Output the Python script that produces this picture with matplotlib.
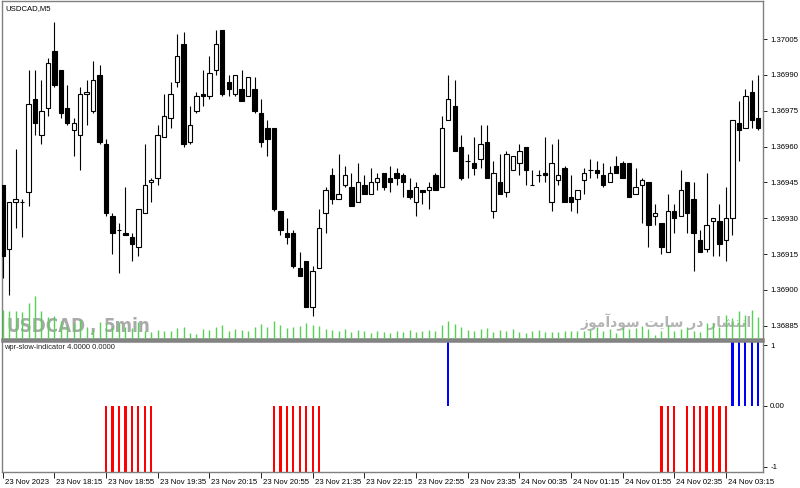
import matplotlib
matplotlib.use('Agg')
import numpy as np
import matplotlib.pyplot as plt
import matplotlib.transforms as mtransforms

plt.rcParams['font.family'] = ['Liberation Sans', 'DejaVu Sans']

# USDCAD M5 candles (bar 0 = 23 Nov 17:35)
opens = [1.36944, 1.36917, 1.36937, 1.36937, 1.36941, 1.36980, 1.36965, 1.36976, 1.37000, 1.36992,
         1.36976, 1.36967, 1.36965, 1.36982, 1.36975, 1.36990, 1.36961, 1.36931, 1.36925, 1.36924,
         1.36922, 1.36918, 1.36932, 1.36945, 1.36947, 1.36964, 1.36972, 1.36987, 1.37003, 1.36962,
         1.36975, 1.36982, 1.36981, 1.36992, 1.37009, 1.36987, 1.36982, 1.36984, 1.36981, 1.36984,
         1.36974, 1.36968, 1.36968, 1.36933, 1.36924, 1.36924, 1.36909, 1.36912, 1.36893, 1.36909,
         1.36932, 1.36948, 1.36938, 1.36944, 1.36943, 1.36937, 1.36944, 1.36940, 1.36945, 1.36949,
         1.36947, 1.36949, 1.36948, 1.36942, 1.36937, 1.36942, 1.36942, 1.36948, 1.36943, 1.36971,
         1.36977, 1.36960, 1.36954, 1.36953, 1.36955, 1.36962, 1.36933, 1.36945, 1.36941, 1.36950,
         1.36953, 1.36960, 1.36944, 1.36948, 1.36949, 1.36937, 1.36946, 1.36951, 1.36939, 1.36938,
         1.36946, 1.36950, 1.36950, 1.36948, 1.36945, 1.36952, 1.36953, 1.36953, 1.36940, 1.36944,
         1.36945, 1.36931, 1.36928, 1.36916, 1.36933, 1.36931, 1.36945, 1.36938, 1.36921, 1.36917,
         1.36929, 1.36929, 1.36921, 1.36930, 1.36970, 1.36968, 1.36983, 1.36972]
highs = [1.36944, 1.36937, 1.36959, 1.36938, 1.36992, 1.36992, 1.36988, 1.36997, 1.37012, 1.36992,
         1.36986, 1.36972, 1.36985, 1.36988, 1.36996, 1.36994, 1.36963, 1.36932, 1.36928, 1.36943,
         1.36924, 1.36934, 1.36961, 1.36947, 1.36969, 1.36982, 1.36987, 1.37007, 1.37008, 1.36977,
         1.36983, 1.36992, 1.36998, 1.37009, 1.37009, 1.36990, 1.36990, 1.36992, 1.36989, 1.36989,
         1.36980, 1.36971, 1.36968, 1.36933, 1.36930, 1.36925, 1.36916, 1.36912, 1.36910, 1.36934,
         1.36943, 1.36951, 1.36957, 1.36952, 1.36949, 1.36953, 1.36948, 1.36951, 1.36949, 1.36949,
         1.36952, 1.36951, 1.36949, 1.36947, 1.36945, 1.36942, 1.36945, 1.36949, 1.36973, 1.36990,
         1.36988, 1.36965, 1.36957, 1.36964, 1.36969, 1.36969, 1.36954, 1.36957, 1.36958, 1.36956,
         1.36961, 1.36960, 1.36950, 1.36950, 1.36964, 1.36961, 1.36963, 1.36952, 1.36948, 1.36942,
         1.36951, 1.36955, 1.36954, 1.36953, 1.36952, 1.36956, 1.36954, 1.36953, 1.36951, 1.36947,
         1.36945, 1.36936, 1.36928, 1.36940, 1.36936, 1.36950, 1.36945, 1.36945, 1.36925, 1.36949,
         1.36930, 1.36936, 1.36943, 1.36971, 1.36979, 1.36984, 1.36988, 1.36990]
lows = [1.36905, 1.36898, 1.36926, 1.36922, 1.36935, 1.36965, 1.36961, 1.36973, 1.36985, 1.36972,
        1.36969, 1.36956, 1.36950, 1.36969, 1.36974, 1.36961, 1.36931, 1.36915, 1.36907, 1.36923,
        1.36912, 1.36914, 1.36932, 1.36937, 1.36944, 1.36964, 1.36968, 1.36985, 1.36960, 1.36961,
        1.36974, 1.36977, 1.36980, 1.36990, 1.36981, 1.36981, 1.36981, 1.36979, 1.36981, 1.36974,
        1.36960, 1.36956, 1.36933, 1.36923, 1.36919, 1.36909, 1.36906, 1.36893, 1.36889, 1.36909,
        1.36924, 1.36936, 1.36938, 1.36943, 1.36935, 1.36937, 1.36940, 1.36940, 1.36942, 1.36942,
        1.36941, 1.36944, 1.36939, 1.36938, 1.36931, 1.36936, 1.36934, 1.36942, 1.36943, 1.36971,
        1.36958, 1.36946, 1.36947, 1.36948, 1.36951, 1.36947, 1.36930, 1.36940, 1.36939, 1.36950,
        1.36948, 1.36944, 1.36944, 1.36945, 1.36945, 1.36933, 1.36944, 1.36937, 1.36933, 1.36932,
        1.36940, 1.36947, 1.36947, 1.36943, 1.36945, 1.36949, 1.36947, 1.36939, 1.36940, 1.36928,
        1.36918, 1.36927, 1.36915, 1.36916, 1.36924, 1.36931, 1.36924, 1.36908, 1.36916, 1.36916,
        1.36914, 1.36914, 1.36912, 1.36923, 1.36954, 1.36968, 1.36968, 1.36967]
closes = [1.36914, 1.36937, 1.36938, 1.36937, 1.36978, 1.36970, 1.36975, 1.36995, 1.36986, 1.36974,
          1.36970, 1.36970, 1.36982, 1.36983, 1.36988, 1.36962, 1.36932, 1.36924, 1.36925, 1.36923,
          1.36919, 1.36934, 1.36944, 1.36946, 1.36965, 1.36973, 1.36982, 1.36998, 1.36961, 1.36969,
          1.36981, 1.36981, 1.36991, 1.37003, 1.36982, 1.36984, 1.36990, 1.36979, 1.36989, 1.36975,
          1.36962, 1.36963, 1.36934, 1.36925, 1.36922, 1.36910, 1.36906, 1.36893, 1.36908, 1.36926,
          1.36942, 1.36938, 1.36940, 1.36948, 1.36935, 1.36945, 1.36940, 1.36945, 1.36947, 1.36943,
          1.36945, 1.36947, 1.36945, 1.36939, 1.36943, 1.36941, 1.36943, 1.36942, 1.36968, 1.36980,
          1.36958, 1.36947, 1.36954, 1.36951, 1.36961, 1.36947, 1.36949, 1.36940, 1.36957, 1.36956,
          1.36958, 1.36950, 1.36944, 1.36948, 1.36948, 1.36953, 1.36948, 1.36937, 1.36937, 1.36942,
          1.36949, 1.36950, 1.36949, 1.36944, 1.36949, 1.36949, 1.36947, 1.36939, 1.36943, 1.36946,
          1.36927, 1.36932, 1.36918, 1.36933, 1.36930, 1.36942, 1.36932, 1.36924, 1.36916, 1.36927,
          1.36930, 1.36919, 1.36930, 1.36971, 1.36967, 1.36981, 1.36971, 1.36968]
# tick volumes (relative, no scale shown)
volumes = [29, 28, 28, 27, 36, 43, 28, 22, 23, 18, 13, 16, 20, 12, 9, 17, 16, 12, 16, 12,
           11, 17, 8, 7, 9, 8, 8, 11, 12, 6, 5, 10, 9, 12, 14, 8, 10, 9, 8, 12,
           15, 12, 18, 14, 11, 12, 13, 16, 14, 13, 10, 9, 8, 10, 7, 9, 8, 6, 8, 7,
           6, 8, 7, 9, 7, 8, 9, 8, 14, 18, 15, 12, 9, 8, 10, 11, 7, 9, 8, 10,
           7, 6, 8, 9, 7, 7, 7, 8, 8, 8, 8, 10, 12, 8, 10, 6, 12, 10, 11, 13,
           10, 4, 8, 14, 8, 10, 12, 8, 7, 16, 16, 12, 24, 21, 28, 24, 29, 22]

price_ticks = [1.36885, 1.36900, 1.36915, 1.36930, 1.36945, 1.36960, 1.36975, 1.36990, 1.37005]
time_ticks = [0, 8, 16, 24, 32, 40, 48, 56, 64, 72, 80, 88, 96, 104, 112]
time_labels = ['23 Nov 2023', '23 Nov 18:15', '23 Nov 18:55', '23 Nov 19:35', '23 Nov 20:15',
               '23 Nov 20:55', '23 Nov 21:35', '23 Nov 22:15', '23 Nov 22:55', '23 Nov 23:35',
               '24 Nov 00:35', '24 Nov 01:15', '24 Nov 01:55', '24 Nov 02:35', '24 Nov 03:15']

# wpr-slow-indicator histogram
sell_bars = [16, 17, 18, 19, 20, 21, 22, 23, 42, 43, 44, 45, 46, 47, 48, 49,
             102, 103, 104, 106, 107, 108, 109, 110, 111, 112]
buy_bars = [69, 113, 114, 115, 116, 117]
signal_level = 4.0

# "انتشار در سایت سودآموز" in presentation forms, visual order
persian_note = '\uFEAF\uFEEE\uFEE3\uFE81\uFEA9\uFEEE\uFEB3 \uFE96\uFEF3\uFE8E\uFEB3 \uFEAD\uFEA9 \uFEAD\uFE8E\uFEB8\uFE98\uFEE7\uFE8D'

frame = '#808080'
x = np.arange(len(opens))
o = np.array(opens); c = np.array(closes)

fig = plt.figure(figsize=(8, 4.88), dpi=100)
ax = fig.add_axes([0.0029, 0.3053, 0.9512, 0.6917])
ind = fig.add_axes([0.0029, 0.0334, 0.9512, 0.2678])

# volumes on a hidden overlay, heights in pixels
vax = ax.twinx()
vax.vlines(x, 0, volumes, color='#55d155', lw=1.0)
vax.set_ylim(0, 337.5)
vax.axis('off')

# candles
ax.vlines(x, lows, highs, color='black', lw=0.8, zorder=3)
colors = ['white' if cl >= op else 'black' for op, cl in zip(opens, closes)]
ax.bar(x, np.abs(c - o), bottom=np.minimum(o, c), width=0.68, color=colors,
       edgecolor='black', lw=0.8, zorder=4)
ax.set_xlim(-0.06, 117.78)
ax.set_ylim(1.368794, 1.370208)
ax.set_xticks([])
ax.yaxis.tick_right()
ax.set_yticks(price_ticks)
ax.set_yticklabels([f'{p:.5f}' for p in price_ticks])
ax.tick_params(axis='y', direction='out', length=3, width=0.6, labelsize=5.6, pad=2, color='black',
               left=False, labelleft=False, right=True, labelright=True)
for s in ax.spines.values():
    s.set_color(frame)
    s.set_linewidth(1)
ax.spines['bottom'].set_linewidth(1.8)

# watermark
wm = dict(transform=ax.transAxes, fontsize=13.5, fontweight='bold', family=['DejaVu Sans'],
          fontstretch='condensed', color='#a9a9a9', ha='left', va='bottom', zorder=1)
ax.text(0.005, 0.01, 'USDCAD', **wm)
ax.text(0.114, 0.01, ',', **wm)
ax.text(0.133, 0.01, '5min', **wm)
ax.text(0.985, 0.025, persian_note, transform=ax.transAxes, fontsize=10, fontweight='bold',
        family=['DejaVu Sans'], color='#b4b4b4', ha='right', va='bottom', zorder=1)
ax.text(0.0045, 0.978, 'USDCAD,M5', transform=ax.transAxes, fontsize=5.6, color='black',
        ha='left', va='center')

# indicator window
ind.bar(sell_bars, -signal_level, width=0.36, color='#ff0000', zorder=2)
ind.bar(buy_bars, signal_level, width=0.36, color='#0000ff', zorder=2)
ind.set_xlim(-0.06, 117.78)
ind.set_ylim(-1.082, 1.066)
ind.yaxis.tick_right()
ind.set_yticks([1, 0, -1])
ind.set_yticklabels(['1', '0.00', '-1'])
ind.tick_params(axis='y', direction='out', length=3, width=0.6, labelsize=5.6, pad=2)
ind.set_xticks(time_ticks)
ind.set_xticklabels(time_labels, ha='left')
ind.tick_params(axis='x', direction='out', length=4, width=0.6, labelsize=5.6, pad=1)
shift = mtransforms.ScaledTranslation(1.5 / 72, 0, fig.dpi_scale_trans)
for lab in ind.get_xticklabels():
    lab.set_transform(lab.get_transform() + shift)
for s in ind.spines.values():
    s.set_color(frame)
    s.set_linewidth(1)
ind.spines['top'].set_linewidth(1.8)
ind.text(0.0025, 0.954, 'wpr-slow-indicator 4.0000 0.0000', transform=ind.transAxes,
         fontsize=5.4, color='#202020', ha='left', va='center')

fig.savefig('out.png', dpi=100, facecolor='white')
